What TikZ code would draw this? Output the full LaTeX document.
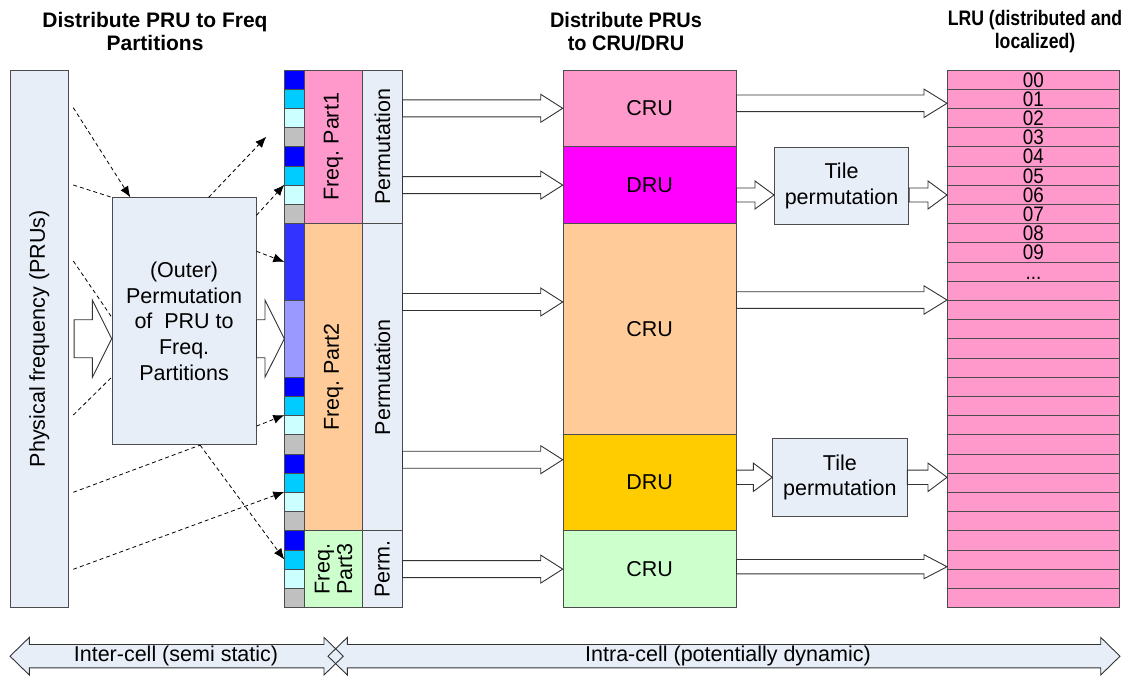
\documentclass[tikz,border=0pt]{standalone}
\usepackage{fontspec}
\setmainfont{Liberation Sans}
\usetikzlibrary{positioning,calc,arrows.meta}
\definecolor{boxblue}{RGB}{232,238,248}
\definecolor{prupink}{RGB}{255,153,204}
\definecolor{prupeach}{RGB}{255,204,153}
\definecolor{prugreen}{RGB}{204,255,204}
\definecolor{drumagenta}{RGB}{255,0,255}
\definecolor{drugold}{RGB}{255,204,0}
\definecolor{strip0}{RGB}{0,0,255}
\definecolor{strip1}{RGB}{0,204,255}
\definecolor{strip2}{RGB}{204,255,255}
\definecolor{strip3}{RGB}{192,192,192}
\definecolor{stripblue}{RGB}{51,51,255}
\definecolor{striplilac}{RGB}{153,153,255}
\frenchspacing

\newcommand{\dfont}{\fontsize{21.5}{24}\selectfont}

% hollow block arrow: start point, target node, shaft half width, head half width, head length
\newcommand{\blockarrow}[5]{%
  \path[draw=black!80, fill=white, line width=0.9pt, line join=miter]
    let \p1=(#1), \p2=(#2.west) in
    (\x1,\y1+#3) -- (\x2-#5,\y1+#3) -- (\x2-#5,\y1+#4) -- (\x2,\y1)
    -- (\x2-#5,\y1-#4) -- (\x2-#5,\y1-#3) -- (\x1,\y1-#3) -- cycle;}

% double headed span arrow at the bottom
\newcommand{\spanarrow}[3]{%
  \path[#1] (#2,656.2) -- (#2+19.3,637.4) -- (#2+19.3,644.5) -- (#3-19.3,644.5)
    -- (#3-19.3,637.4) -- (#3,656.2) -- (#3-19.3,675) -- (#3-19.3,667.9)
    -- (#2+19.3,667.9) -- (#2+19.3,675) -- cycle;}

\begin{document}
\begin{tikzpicture}[x=1pt, y=-1pt,
    stripcell/.style={rectangle, draw=black!70, line width=0.8pt, anchor=north west, inner sep=0pt, minimum width=19.7pt, minimum height=19.2pt},
    colbox/.style={rectangle, draw=black!70, line width=0.8pt, anchor=north west, inner sep=0pt},
    lrucell/.style={stripcell, fill=prupink, minimum width=172pt},
    lrulabel/.style={font=\fontsize{21}{24}\selectfont, inner sep=0pt, text height=15.2pt, text depth=0pt, xscale=0.9},
    partbox/.style={colbox, minimum width=58.3pt},
    permbox/.style={colbox, fill=boxblue, minimum width=39.4pt},
    unitbox/.style={colbox, minimum width=173pt, font=\dfont},
    tilebox/.style={colbox, fill=boxblue, minimum width=134.3pt, minimum height=77.5pt, align=center, font=\fontsize{21.5}{25.5}\selectfont},
    vlabel/.style={font=\dfont, rotate=90, align=center},
    heading/.style={font=\fontsize{21}{22.5}\selectfont\bfseries, align=center},
    spread/.style={black, line width=0.8pt, dash pattern=on 4pt off 3pt, -{Latex[length=11pt,width=9pt]}},
    spreadline/.style={spread, -}
]
\useasboundingbox (0,0) rectangle (1123,677);

% Headings
\node[heading] (head1) at (155,31.7) {Distribute PRU to Freq\\Partitions};
\node[heading, xscale=0.95] (head2) at (626,31.7) {Distribute PRUs\\to CRU/DRU};
\node[heading, xscale=0.84] (head3) at (1035,31.7) {LRU (distributed and\\localized)};

% Physical frequency and outer permutation
\node[colbox, fill=boxblue, minimum width=58pt, minimum height=537.6pt] (phys) at (10,69.5) {};
\node[vlabel] at (phys) {Physical frequency (PRUs)};
\node[colbox, fill=boxblue, minimum width=144pt, minimum height=247pt, align=center,
      font=\fontsize{21.5}{25.8}\selectfont] (outer) at (111.7,197.3)
      {(Outer)\\Permutation\\of\ \ PRU to\\Freq.\\Partitions};

% PRU strip
\foreach \r in {0,...,7,16,17,...,27} {
    \pgfmathtruncatemacro{\c}{mod(\r,4)}
    \node[stripcell, fill=strip\c] (s\r) at (284.3,69.5+\r*19.2) {};
}
\node[stripcell, fill=stripblue, minimum height=76.8pt] (sA) at (284.3,223.1) {};
\node[stripcell, fill=striplilac, minimum height=76.8pt] (sB) at (284.3,299.9) {};

% Frequency partitions
\node[partbox, fill=prupink, minimum height=153.6pt] (part1) at (304,69.5) {};
\node[partbox, fill=prupeach, minimum height=307.2pt] (part2) at (304,223.1) {};
\node[partbox, fill=prugreen, minimum height=76.8pt] (part3) at (304,530.3) {};
\node[vlabel] at (part1) {Freq. Part1};
\node[vlabel] at (part2) {Freq. Part2};
\node[vlabel, font=\fontsize{21.5}{22.5}\selectfont] at (part3) {Freq.\\Part3};

\node[permbox, minimum height=153.6pt] (perm1) at (362.3,69.5) {};
\node[permbox, minimum height=307.2pt] (perm2) at (362.3,223.1) {};
\node[permbox, minimum height=76.8pt] (perm3) at (362.3,530.3) {};
\node[vlabel] at (perm1) {Permutation};
\node[vlabel] at (perm2) {Permutation};
\node[vlabel] at (perm3) {Perm.};

% CRU / DRU
\node[unitbox, fill=prupink, minimum height=76.8pt] (cru1) at (562.7,69.5) {CRU};
\node[unitbox, fill=drumagenta, minimum height=76.8pt] (dru1) at (562.7,146.3) {DRU};
\node[unitbox, fill=prupeach, minimum height=211.2pt] (cru2) at (562.7,223.1) {CRU};
\node[unitbox, fill=drugold, minimum height=96pt] (dru2) at (562.7,434.3) {DRU};
\node[unitbox, fill=prugreen, minimum height=76.8pt] (cru3) at (562.7,530.3) {CRU};

\node[tilebox] (tile1) at (774,146.7) {Tile\\permutation};
\node[tilebox] (tile2) at (772.3,438.3) {Tile\\permutation};

% LRU
\foreach \r in {0,...,27} {
    \node[lrucell] (l\r) at (947,69.5+\r*19.2) {};
}
\foreach \r in {0,...,9} {
    \node[lrulabel] at (l\r) {0\r};
}
\node[lrulabel] at (l10) {...};

% Block arrows
\blockarrow{[xshift=5.3pt]phys.east}{outer}{19pt}{38.5pt}{19.3pt}
\blockarrow{outer.east |- phys.east}{sB}{19pt}{38.5pt}{19.3pt}
\blockarrow{perm1.east |- cru1}{cru1}{8.5pt}{14pt}{22pt}
\blockarrow{perm1.east |- dru1}{dru1}{8.5pt}{14pt}{22pt}
\blockarrow{perm2.east |- 0,302}{cru2}{8.5pt}{14pt}{22pt}
\blockarrow{perm2.east |- 0,459.7}{dru2}{8.5pt}{14pt}{22pt}
\blockarrow{perm3.east |- cru3}{cru3}{8.5pt}{14pt}{22pt}
\blockarrow{cru1.east |- 0,103.3}{l1}{8.3pt}{14.2pt}{23pt}
\blockarrow{dru1.east |- 0,195}{tile1}{7pt}{14pt}{19pt}
\blockarrow{tile1.east |- 0,195}{l6}{7pt}{14pt}{19pt}
\blockarrow{cru2.east |- 0,300}{l12}{8.3pt}{14.2pt}{23pt}
\blockarrow{dru2.east |- 0,477.3}{tile2}{7.2pt}{14.2pt}{19pt}
\blockarrow{tile2.east |- 0,477.3}{l21}{7.2pt}{14.2pt}{19pt}
\blockarrow{cru3.east |- 0,566.7}{l25}{7.2pt}{12pt}{23pt}

% Dashed mapping lines
\coordinate (d1) at (73.3,107.7);
\coordinate (d2) at (73.3,185);
\coordinate (d3) at (73.3,261);
\coordinate (d4) at (73.3,415);
\coordinate (d5) at (73.3,492.3);
\coordinate (d6) at (73.3,569.3);
\draw[spread] (d1) -- ([xshift=18.6pt]outer.north west);
\draw[spreadline] (d2) -- (outer.north west);
\draw[spreadline] (d3) -- ([yshift=4pt]outer.west);
\draw[spreadline] (d4) -- ([yshift=-56pt]outer.west);
\draw[spreadline] (d5) -- ([xshift=16pt]outer.south);
\draw[spread] (d6) -- (s22.north west);
\draw[spread] ([xshift=16pt]outer.south) -- (s25.west);
\draw[spread] ([yshift=19pt]outer.south east) -- (s18.north west);
\draw[spread, shorten >=26pt] ([xshift=24.6pt]outer.north) -- (s2.west);
\draw[spread] ([yshift=-18pt]outer.north east) -- (s6.north west);
\draw[spread] ([yshift=-54pt]outer.north east) -- (sA.west);

% Bottom span arrows
\spanarrow{fill=boxblue}{10}{343.3}
\spanarrow{fill=boxblue}{328}{1120}
\spanarrow{draw=black!80, line width=0.9pt}{10}{343.3}
\spanarrow{draw=black!80, line width=0.9pt}{328}{1120}
\node[font=\dfont] (inter) at (176,656.2) {Inter-cell (semi static)};
\node[font=\dfont] (intra) at (728,656.2) {Intra-cell (potentially dynamic)};

\end{tikzpicture}
\end{document}
